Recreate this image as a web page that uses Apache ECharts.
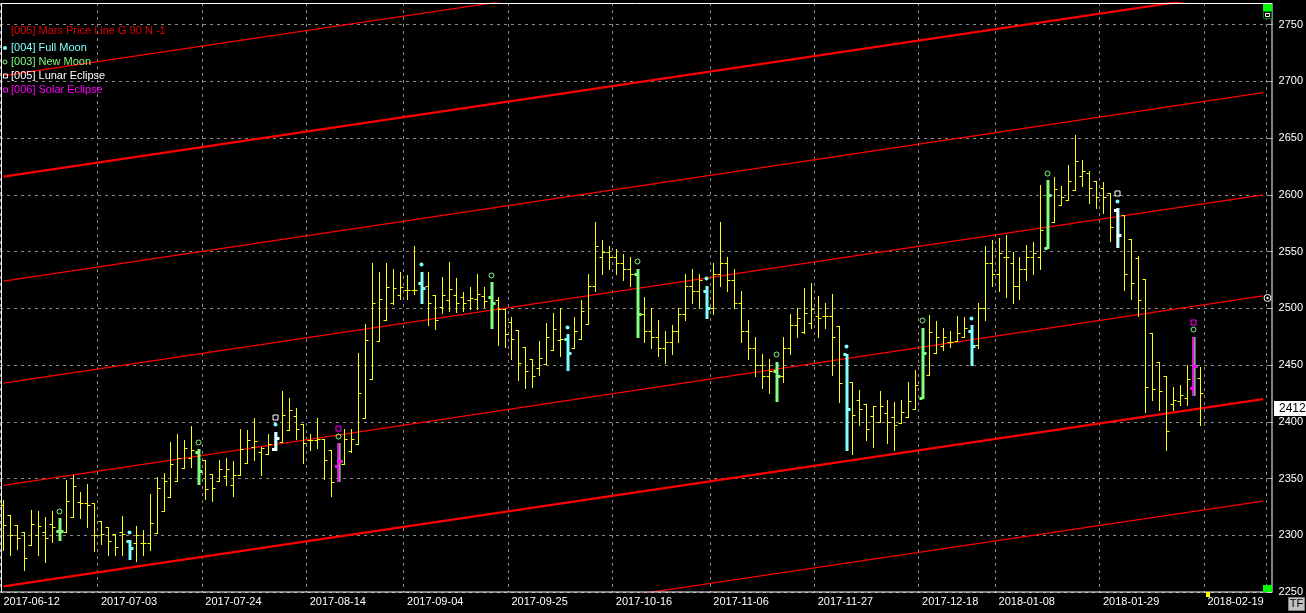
<!DOCTYPE html>
<html><head><meta charset="utf-8">
<style>html,body{margin:0;padding:0;background:#000;overflow:hidden}#c{width:1306px;height:613px}</style>
<script src="https://cdn.jsdelivr.net/npm/echarts@6/dist/echarts.min.js"></script>
</head><body><div id="c"></div>
<script>
const FONT = "'Liberation Sans', Arial, sans-serif";
const categories = [
'2017-06-12','2017-06-13','2017-06-14','2017-06-16',
'2017-06-19','2017-06-20','2017-06-21','2017-06-22','2017-06-23',
'2017-06-26','2017-06-27','2017-06-28','2017-06-29','2017-06-30',
'2017-07-03','2017-07-04','2017-07-05','2017-07-06','2017-07-07',
'2017-07-10','2017-07-11','2017-07-12','2017-07-13','2017-07-14',
'2017-07-17','2017-07-18','2017-07-19','2017-07-20','2017-07-21',
'2017-07-24','2017-07-25','2017-07-26','2017-07-27','2017-07-28',
'2017-07-31','2017-08-01','2017-08-02','2017-08-03','2017-08-04',
'2017-08-07','2017-08-08','2017-08-09','2017-08-10','2017-08-11',
'2017-08-14','2017-08-16','2017-08-17','2017-08-18',
'2017-08-21','2017-08-22','2017-08-23','2017-08-24','2017-08-25',
'2017-08-28','2017-08-29','2017-08-30','2017-08-31','2017-09-01',
'2017-09-04','2017-09-05','2017-09-06','2017-09-07','2017-09-08',
'2017-09-11','2017-09-12','2017-09-13','2017-09-14','2017-09-15',
'2017-09-18','2017-09-19','2017-09-20','2017-09-21','2017-09-22',
'2017-09-25','2017-09-26','2017-09-27','2017-09-28','2017-09-29',
'2017-10-02','2017-10-03','2017-10-04','2017-10-05','2017-10-06',
'2017-10-09','2017-10-10','2017-10-11','2017-10-12','2017-10-13',
'2017-10-16','2017-10-17','2017-10-18','2017-10-19','2017-10-20',
'2017-10-23','2017-10-24','2017-10-25','2017-10-27',
'2017-10-30','2017-10-31','2017-11-01','2017-11-02','2017-11-03',
'2017-11-06','2017-11-07','2017-11-08','2017-11-09','2017-11-10',
'2017-11-13','2017-11-14','2017-11-15','2017-11-16','2017-11-17',
'2017-11-20','2017-11-21','2017-11-22','2017-11-23','2017-11-24',
'2017-11-27','2017-11-28','2017-11-29','2017-11-30','2017-12-01',
'2017-12-04','2017-12-05','2017-12-06','2017-12-07','2017-12-08',
'2017-12-11','2017-12-12','2017-12-13','2017-12-14','2017-12-15',
'2017-12-18','2017-12-19','2017-12-20','2017-12-21','2017-12-22',
'2017-12-27','2017-12-28',
'2018-01-02','2018-01-03','2018-01-04','2018-01-05',
'2018-01-08','2018-01-09','2018-01-10','2018-01-11','2018-01-12',
'2018-01-15','2018-01-16','2018-01-17','2018-01-18','2018-01-19',
'2018-01-22','2018-01-23','2018-01-24','2018-01-25','2018-01-26',
'2018-01-29','2018-01-30','2018-01-31','2018-02-01','2018-02-02',
'2018-02-05','2018-02-06','2018-02-07','2018-02-08','2018-02-09',
'2018-02-12','2018-02-13','2018-02-14','2018-02-15','2018-02-16',
'2018-02-19','2018-02-20','2018-02-21','2018-02-22','2018-02-23',
'2018-02-26','2018-02-27','2018-02-28','2018-03-01'
];
const tickLabels = ['2017-06-12','2017-07-03','2017-07-24','2017-08-14','2017-09-04','2017-09-25','2017-10-16','2017-11-06','2017-11-27','2017-12-18','2018-01-08','2018-01-29','2018-02-19'];

const opens = [
2327,2318,2309,2303,2291,2300,2303,2310,2304,2303,
2316,2329,2328,2328,2313,2307,2301,2303,2295,2293,
2293,2293,2302,2321,2334,2348,2359,2368,2373,2366,
2354,2348,2352,2344,2353,2364,2378,2373,2372,2376,
2382,2393,2405,2398,2384,2384,2385,2375,2361,2363,
2374,2380,2403,2438,2471,2490,2505,2512,2516,2516,
2522,2520,2512,2501,2507,2512,2510,2507,2508,2511,
2510,2507,2499,2488,2481,2466,2455,2447,2451,2463,
2472,2473,2465,2473,2486,2520,2545,2550,2545,2540,
2535,2530,2495,2480,2475,2465,2470,2480,2495,2520,
2515,2515,2500,2530,2540,2525,2505,2480,2465,2450,
2440,2445,2440,2465,2485,2479,2487,2493,2493,2493,
2484,2460,2435,2419,2416,2405,2400,2408,2404,2399,
2404,2411,2421,2441,2461,2467,2470,2471,2475,2480,
2468,2500,2540,2530,2545,2540,2520,2535,2545,2545,
2553,2576,2591,2595,2604,2617,2619,2612,2606,2602,
2587,2582,2561,2544,2526,2478,2453,2440,2416,2418,
2421,2430,2439];
const highs = [
2331,2318,2309,2303,2322,2321,2316,2321,2315,2349,
2353,2338,2345,2328,2313,2307,2301,2317,2296,2308,
2305,2336,2351,2355,2382,2389,2384,2396,2376,2366,
2354,2366,2368,2365,2394,2393,2403,2378,2389,2391,
2427,2421,2412,2398,2389,2403,2385,2375,2381,2394,
2394,2461,2486,2540,2532,2540,2535,2532,2529,2555,
2532,2532,2512,2528,2541,2527,2514,2519,2530,2519,
2523,2510,2499,2492,2481,2466,2455,2471,2487,2496,
2500,2477,2492,2507,2530,2576,2560,2555,2552,2548,
2545,2535,2510,2500,2490,2480,2485,2500,2530,2535,
2530,2520,2540,2576,2545,2535,2515,2490,2475,2460,
2455,2453,2475,2495,2500,2518,2522,2511,2505,2513,
2484,2460,2435,2428,2416,2414,2427,2419,2417,2419,
2435,2446,2483,2494,2489,2483,2480,2493,2492,2485,
2505,2555,2560,2562,2565,2550,2545,2556,2558,2609,
2613,2616,2608,2626,2653,2631,2621,2612,2611,2602,
2588,2582,2561,2546,2526,2478,2453,2440,2431,2432,
2450,2475,2448];
const lows = [
2287,2283,2288,2269,2291,2283,2276,2294,2296,2303,
2316,2315,2307,2286,2292,2283,2283,2283,2279,2277,
2283,2287,2302,2321,2334,2348,2359,2360,2345,2332,
2330,2348,2344,2335,2353,2364,2366,2353,2372,2375,
2382,2393,2385,2364,2375,2377,2350,2335,2348,2363,
2373,2380,2403,2438,2471,2490,2504,2508,2508,2513,
2505,2485,2482,2496,2498,2497,2498,2499,2499,2501,
2483,2468,2466,2455,2437,2430,2431,2441,2451,2463,
2458,2446,2465,2473,2486,2515,2530,2535,2530,2525,
2520,2475,2470,2465,2458,2452,2460,2470,2490,2505,
2500,2491,2495,2520,2515,2500,2470,2455,2440,2430,
2425,2418,2435,2460,2475,2478,2483,2475,2483,2441,
2417,2375,2372,2397,2384,2378,2400,2381,2375,2399,
2404,2411,2421,2441,2461,2463,2466,2471,2475,2450,
2465,2490,2520,2515,2510,2505,2508,2525,2530,2535,
2553,2576,2591,2595,2604,2608,2593,2588,2584,2559,
2554,2516,2508,2493,2409,2419,2410,2375,2410,2415,
2415,2424,2397];
const closes = [
2309,2300,2298,2280,2310,2308,2298,2307,2304,2330,
2343,2328,2327,2300,2301,2295,2290,2301,2289,2300,
2293,2311,2342,2348,2363,2368,2377,2375,2357,2341,
2342,2358,2358,2353,2376,2384,2383,2377,2380,2386,
2406,2410,2394,2381,2384,2385,2366,2347,2365,2385,
2385,2425,2472,2505,2508,2519,2518,2519,2516,2516,
2518,2505,2490,2512,2517,2505,2505,2509,2513,2506,
2505,2499,2477,2473,2452,2445,2440,2456,2475,2482,
2473,2461,2480,2498,2520,2555,2550,2545,2540,2535,
2530,2495,2480,2475,2465,2470,2480,2495,2520,2515,
2525,2500,2530,2540,2525,2505,2480,2465,2450,2440,
2445,2440,2465,2485,2491,2496,2499,2491,2493,2475,
2434,2411,2406,2411,2394,2414,2414,2400,2397,2409,
2418,2432,2461,2479,2475,2475,2470,2478,2483,2467,
2500,2540,2530,2549,2545,2520,2535,2545,2549,2569,
2600,2605,2598,2612,2630,2621,2606,2598,2598,2572,
2565,2530,2522,2507,2431,2429,2427,2392,2419,2424,
2438,2449,2425];

const fullMoonDates = ['2017-07-07','2017-08-07','2017-09-06','2017-10-05','2017-11-03','2017-12-01','2018-01-02','2018-01-31'];
const newMoonDates = ['2017-06-23','2017-07-21','2017-08-21','2017-09-20','2017-10-19','2017-11-17','2017-12-18','2018-01-17','2018-02-15'];
const lunarEclipseDates = ['2017-08-07','2018-01-31'];
const solarEclipseDates = ['2017-08-21','2018-02-15'];

// Mars price lines (G 90): value at first and last category
const marsLineStart = [2165, 2255, 2344, 2434, 2524, 2616, 2705];
const marsLineEnd   = [2330, 2420, 2511, 2600, 2690, 2781, 2870];
const lastPrice = 2412;
const yTicks = {min: 2250, max: 2769, step: 50};

const chart = echarts.init(document.getElementById('c'));
const N = categories.length;
const showTick = (idx, val) => tickLabels.indexOf(categories[idx]) >= 0;

const bars = opens.map((o, i) => [i, o, highs[i], lows[i], closes[i]]);
function evData(dates) {
  return dates.map(d => { const i = categories.indexOf(d); return [i, opens[i], highs[i], lows[i], closes[i]]; });
}

function ohlcRender(params, api) {
  const i = api.value(0);
  const ph = api.coord([i, api.value(2)]);
  const pl = api.coord([i, api.value(3)]);
  const po = api.coord([i, api.value(1)]);
  const pc = api.coord([i, api.value(4)]);
  const x = Math.round(ph[0]) + 0.5;
  const yo = Math.round(po[1]) + 0.5, yc = Math.round(pc[1]) + 0.5;
  const st = {stroke: '#ffff00', lineWidth: 1};
  return {type: 'group', children: [
    {type: 'line', shape: {x1: x, y1: Math.round(ph[1]), x2: x, y2: Math.round(pl[1]) + 1}, style: st},
    {type: 'line', shape: {x1: x - 3, y1: yo, x2: x, y2: yo}, style: st},
    {type: 'line', shape: {x1: x, y1: yc, x2: x + 3, y2: yc}, style: st}
  ]};
}

function eventBarSeries(dates, color, w, dx) {
  return {
    type: 'custom', data: evData(dates), z: 5, silent: true,
    renderItem: (params, api) => {
      const i = api.value(0);
      const ph = api.coord([i, api.value(2)]);
      const pl = api.coord([i, api.value(3)]);
      const po = api.coord([i, api.value(1)]);
      const pc = api.coord([i, api.value(4)]);
      const x = Math.round(ph[0]) + dx;
      const st = {fill: color};
      return {type: 'group', children: [
        {type: 'rect', shape: {x: x - w / 2 + 0.5, y: Math.round(ph[1]), width: w, height: Math.round(pl[1]) - Math.round(ph[1]) + 1}, style: st},
        {type: 'rect', shape: {x: x - 3, y: Math.round(po[1]) - 1, width: 3, height: 3}, style: st},
        {type: 'rect', shape: {x: x + 1, y: Math.round(pc[1]) - 1, width: 3, height: 3}, style: st}
      ]};
    }
  };
}

function markerSeries(dates, color, shape, off) {
  return {
    type: 'custom', data: evData(dates), z: 6, silent: true,
    renderItem: (params, api) => {
      const i = api.value(0);
      const ph = api.coord([i, api.value(2)]);
      const cx = Math.round(ph[0]) + 0.5, cy = Math.round(ph[1] - off) + 0.5;
      if (shape === 'dot') return {type: 'circle', shape: {cx: cx, cy: cy, r: 2}, style: {fill: color}};
      if (shape === 'ring') return {type: 'circle', shape: {cx: cx, cy: cy, r: 2.5}, style: {fill: null, stroke: color, lineWidth: 1}};
      return {type: 'rect', shape: {x: cx - 2.5, y: cy - 2.5, width: 5, height: 5}, style: {fill: null, stroke: color, lineWidth: 1}};
    }
  };
}

const marsSeries = marsLineStart.map((v, k) => ({
  type: 'line', symbol: 'none', silent: true, z: 2, clip: true,
  data: [[categories[0], v], [categories[N - 1], marsLineEnd[k]]],
  lineStyle: {color: '#ff0000', width: (k === 1 || k === 5) ? 2.2 : 1.2}
}));

const option = {
  backgroundColor: '#000',
  animation: false,
  grid: {left: -2.27, right: 34.77, top: 3, bottom: 21},
  xAxis: {
    type: 'category', data: categories, boundaryGap: true,
    axisLine: {show: false},
    axisTick: {show: false, interval: showTick},
    axisLabel: {interval: showTick, color: '#ffffff', fontSize: 11, fontFamily: FONT, align: 'left', margin: 4},
    splitLine: {show: true, interval: showTick, lineStyle: {color: '#8a8a8a', type: [3, 4], width: 1}}
  },
  yAxis: {
    type: 'value', position: 'right', min: yTicks.min, max: yTicks.max, interval: yTicks.step,
    axisLine: {show: false},
    axisTick: {show: true, length: 6, lineStyle: {color: '#9a9a9a'}},
    axisLabel: {color: '#ffffff', fontSize: 11, fontFamily: FONT, margin: 12,
      formatter: v => (v % 50 === 0 ? String(v) : '')},
    splitLine: {show: true, lineStyle: {color: '#8a8a8a', type: [3, 4], width: 1}}
  },
  series: [
    ...marsSeries,
    {type: 'custom', data: bars, renderItem: ohlcRender, z: 4, silent: true, encode: {x: 0, y: [1, 2, 3, 4]}},
    eventBarSeries(fullMoonDates, '#80ffff', 3, 0.5),
    eventBarSeries(newMoonDates, '#80ff80', 3, 0.5),
    eventBarSeries(lunarEclipseDates, '#ffffff', 2, 0),
    eventBarSeries(solarEclipseDates, '#ff00ff', 2, 0),
    markerSeries(fullMoonDates, '#80ffff', 'dot', 7.5),
    markerSeries(newMoonDates, '#80ff80', 'ring', 7.5),
    markerSeries(lunarEclipseDates, '#ffffff', 'square', 15),
    markerSeries(solarEclipseDates, '#ff00ff', 'square', 15)
  ]
};
chart.setOption(option);

const yLast = chart.convertToPixel({yAxisIndex: 0}, lastPrice);
const xNext = chart.convertToPixel({xAxisIndex: 0}, categories[opens.length]);
const legend = [
  {t: '[005] Mars Price Line G 90 N -1', c: '#e00000', y: 30.5, m: null},
  {t: '[004] Full Moon', c: '#80ffff', y: 48, m: 'dot'},
  {t: '[003] New Moon', c: '#80ff80', y: 62, m: 'ring'},
  {t: '[005] Lunar Eclipse', c: '#ffffff', y: 76, m: 'square'},
  {t: '[006] Solar Eclipse', c: '#ff00ff', y: 90, m: 'square'}
];
const g = [];
legend.forEach(l => {
  g.push({type: 'text', x: 11, y: l.y, z: 20, style: {text: l.t, fill: l.c, font: '11px ' + FONT, textVerticalAlign: 'middle'}});
  if (l.m === 'dot') g.push({type: 'circle', shape: {cx: 5, cy: l.y, r: 2}, style: {fill: l.c}, z: 20});
  if (l.m === 'ring') g.push({type: 'circle', shape: {cx: 5, cy: l.y, r: 2}, style: {fill: null, stroke: l.c, lineWidth: 1}, z: 20});
  if (l.m === 'square') g.push({type: 'rect', shape: {x: 3.5, y: l.y - 2, width: 4, height: 4}, style: {fill: null, stroke: l.c, lineWidth: 1}, z: 20});
});
// frame
g.push({type: 'rect', shape: {x: 1.5, y: 3.5, width: 1270.5, height: 588.5}, style: {fill: null, stroke: '#ffffff', lineWidth: 1}, z: 15, silent: true});
// widgets
g.push({type: 'rect', shape: {x: 1263, y: 4, width: 9, height: 7}, style: {fill: '#00ff00'}, z: 16});
g.push({type: 'rect', shape: {x: 1263.5, y: 11.5, width: 8, height: 7}, style: {fill: '#000', stroke: '#008000', lineWidth: 1}, z: 16});
g.push({type: 'rect', shape: {x: 1265.5, y: 13.5, width: 4, height: 3}, style: {fill: null, stroke: '#ffffff', lineWidth: 1}, z: 17});
g.push({type: 'rect', shape: {x: 1263, y: 585, width: 9, height: 7}, style: {fill: '#00ff00'}, z: 16});
g.push({type: 'circle', shape: {cx: 1267.5, cy: 298, r: 3.5}, style: {fill: '#000', stroke: '#ffffff', lineWidth: 1}, z: 16});
g.push({type: 'circle', shape: {cx: 1267.5, cy: 298, r: 1.2}, style: {fill: '#ffffff'}, z: 17});
g.push({type: 'rect', shape: {x: Math.round(xNext) - 1, y: 592, width: 4, height: 5}, style: {fill: '#ffff00'}, z: 16});
g.push({type: 'rect', shape: {x: 1288.5, y: 597.5, width: 16, height: 13}, style: {fill: '#c0c0c0', stroke: '#808080', lineWidth: 1}, z: 16});
g.push({type: 'text', x: 1296.5, y: 604, z: 17, style: {text: 'TF', fill: '#000', font: '11px ' + FONT, textAlign: 'center', textVerticalAlign: 'middle'}});
g.push({type: 'rect', shape: {x: 1274, y: Math.round(yLast) - 7, width: 32, height: 15}, style: {fill: '#ffffff'}, z: 16});
g.push({type: 'text', x: 1279, y: Math.round(yLast) + 0.5, z: 17, style: {text: String(lastPrice), fill: '#000', font: '12px ' + FONT, textVerticalAlign: 'middle'}});
chart.setOption({graphic: g});
</script></body></html>
